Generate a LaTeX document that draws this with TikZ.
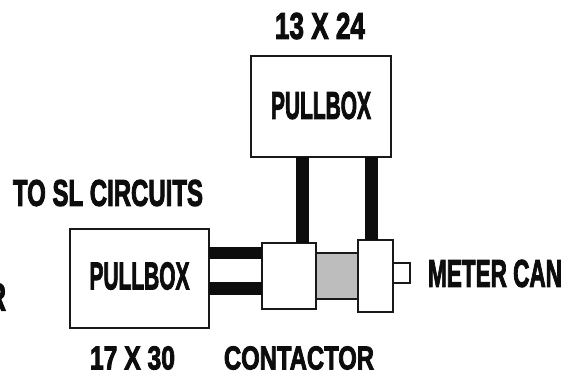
\documentclass[tikz,border=0pt]{standalone}
\usepackage{graphicx}
\usepackage{fontspec}
\setmainfont{Liberation Sans}[BoldFeatures={FakeBold=3}]
\definecolor{fillgray}{HTML}{BDBDBD}
\newcommand{\stxt}[3]{\resizebox{#1pt}{#2pt}{\bfseries #3}}
\tikzset{
  box/.style={draw=black!90,line width=1.6pt,fill=white,rectangle,inner sep=0pt,outer sep=0pt},
  bar/.style={line width=12.5pt,black!95,line cap=butt},
  lab/.style={inner sep=0pt,outer sep=0pt,text=black!95}
}
\begin{document}
\begin{tikzpicture}[x=1pt,y=-1pt]
\useasboundingbox[fill=white] (0,0) rectangle (565,372);
\node[box,minimum width=140pt,minimum height=101pt] (pbtop) at (321,106.5) {};
\node[box,minimum width=139pt,minimum height=99pt] (pbleft) at (139.5,278.5) {};
\node[box,fill=fillgray,minimum width=42pt,minimum height=46pt] (gray) at (337,276) {};
\node[box,minimum width=54pt,minimum height=66pt] (conL) at (289,276) {};
\node[box,minimum width=35pt,minimum height=72pt] (conR) at (375.5,276) {};
\node[box,minimum width=17pt,minimum height=20pt] (meter) at (401.5,273) {};
\coordinate (h1) at (0,253);
\coordinate (h2) at (0,288.5);
\coordinate (v1) at (302.5,0);
\coordinate (v2) at (371.5,0);
\draw[bar] (pbleft.east |- h1) -- (conL.west |- h1);
\draw[bar] (pbleft.east |- h2) -- (conL.west |- h2);
\draw[bar] (pbtop.south -| v1) -- (conL.north -| v1);
\draw[bar] (pbtop.south -| v2) -- (conR.north -| v2);
\node[lab] (t1) at (320,26) {\stxt{90}{26}{13 X 24}};
\node[lab] (t2) at (321,105.5) {\stxt{100}{27}{PULLBOX}};
\node[lab] (t3) at (108,193) {\stxt{190}{26}{TO SL CIRCUITS}};
\node[lab] (t4) at (139.5,276) {\stxt{100}{27}{PULLBOX}};
\node[lab] (t5) at (495,273.5) {\stxt{134}{27}{METER CAN}};
\node[lab] (t6) at (132.5,358) {\stxt{85}{23}{17 X 30}};
\node[lab] (t7) at (299,358) {\stxt{150}{23}{CONTACTOR}};
\node[lab] (t8) at (-3,297) {\stxt{18}{27}{R}};
\end{tikzpicture}
\end{document}
